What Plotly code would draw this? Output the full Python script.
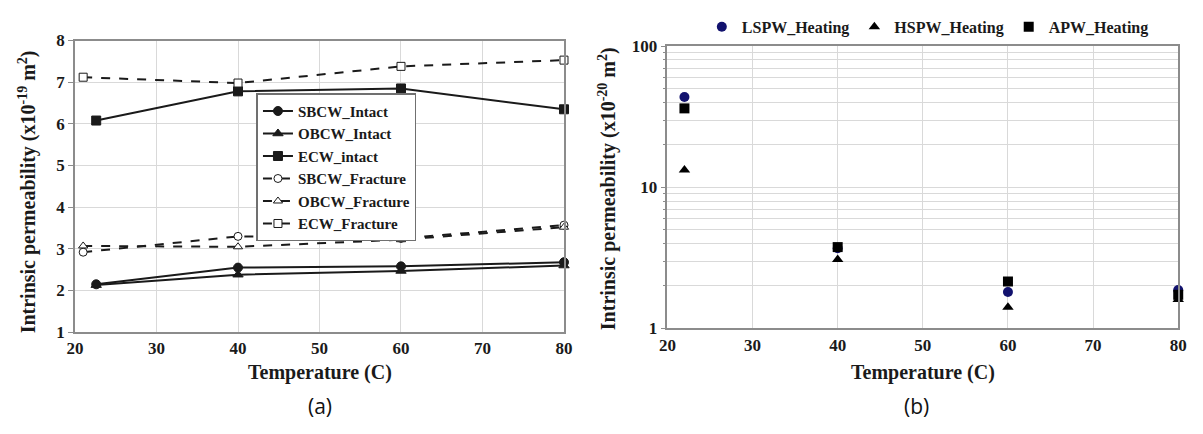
import plotly.graph_objects as go

# ---- Panel (a): permeability vs temperature, intact and fractured walls ----
temp_intact = [22.6, 40, 60, 80]
temp_fracture = [21, 40, 60, 80]

sbcw_intact = [2.15, 2.55, 2.58, 2.68]
obcw_intact = [2.13, 2.38, 2.47, 2.60]
ecw_intact = [6.08, 6.78, 6.85, 6.35]
sbcw_fracture = [2.92, 3.30, 3.25, 3.57]
obcw_fracture = [3.07, 3.05, 3.22, 3.52]
ecw_fracture = [7.12, 6.98, 7.38, 7.53]

# ---- Panel (b): permeability during heating (log scale) ----
temp_heating = [22, 40, 60, 80]
lspw_heating = [43.7, 3.7, 1.81, 1.87]
hspw_heating = [13.3, 3.08, 1.41, 1.60]
apw_heating = [36.3, 3.77, 2.15, 1.73]

SERIF = "Liberation Serif"
GRID = "#d9d9d9"
AXIS = "#8c8c8c"
INK = "#1a1a1a"

fig = go.Figure()

series_a = [
    ("SBCW_Intact", temp_intact, sbcw_intact, "circle", True),
    ("OBCW_Intact", temp_intact, obcw_intact, "triangle-up", True),
    ("ECW_intact", temp_intact, ecw_intact, "square", True),
    ("SBCW_Fracture", temp_fracture, sbcw_fracture, "circle", False),
    ("OBCW_Fracture", temp_fracture, obcw_fracture, "triangle-up", False),
    ("ECW_Fracture", temp_fracture, ecw_fracture, "square", False),
]
for name, xs, ys, sym, filled in series_a:
    fig.add_trace(go.Scatter(
        x=xs, y=ys, name=name, mode="lines+markers",
        line=dict(color=INK, width=2, dash="solid" if filled else "dash"),
        marker=dict(symbol=sym, size=9 if filled else 8,
                    color=INK if filled else "white",
                    line=dict(color=INK, width=1)),
        xaxis="x", yaxis="y", legend="legend", cliponaxis=False,
    ))

series_b = [
    ("LSPW_Heating", lspw_heating, "circle", "#12126e"),
    ("HSPW_Heating", hspw_heating, "triangle-up", "#000000"),
    ("APW_Heating", apw_heating, "square", "#000000"),
]
for name, ys, sym, col in series_b:
    fig.add_trace(go.Scatter(
        x=temp_heating, y=ys, name=name, mode="markers",
        marker=dict(symbol=sym, size=10, color=col, line=dict(width=0)),
        xaxis="x2", yaxis="y2", legend="legend2", cliponaxis=False,
    ))

tickfont = dict(family=SERIF, size=17, color=INK, weight="bold")
legfont = dict(family=SERIF, size=15, color=INK, weight="bold")
legfont2 = dict(family=SERIF, size=16, color=INK, weight="bold")

axis_common = dict(
    showline=True, linecolor=AXIS, linewidth=1.5, mirror=True,
    showgrid=True, gridcolor=GRID, gridwidth=1, zeroline=False,
    tickfont=tickfont,
)

fig.update_layout(
    width=1203, height=434,
    margin=dict(l=0, r=0, t=0, b=0),
    paper_bgcolor="white", plot_bgcolor="white",
    xaxis=dict(domain=[0.0565, 0.4688], anchor="y", range=[20, 80],
               tickmode="linear", tick0=20, dtick=10, ticks="",
               **axis_common),
    yaxis=dict(domain=[0.2212, 0.924], anchor="x", range=[1, 8],
               tickmode="linear", tick0=1, dtick=1, ticks="outside",
               ticklen=5, tickcolor=AXIS, **axis_common),
    xaxis2=dict(domain=[0.556, 0.9867], anchor="y2", range=[20, 80],
                tickmode="linear", tick0=20, dtick=10, ticks="",
                **axis_common),
    yaxis2=dict(domain=[0.2304, 0.9101], anchor="x2", type="log",
                range=[0, 2], dtick=1, ticks="outside", ticklen=5,
                tickcolor=AXIS,
                minor=dict(ticks="outside", ticklen=3, tickcolor=AXIS,
                           showgrid=True, gridcolor=GRID, gridwidth=1),
                **axis_common),
    legend=dict(x=0.2095, y=0.797, xanchor="left", yanchor="top",
                bgcolor="white", bordercolor="#707070", borderwidth=1.5,
                font=legfont, itemwidth=30, tracegroupgap=0,
                traceorder="normal"),
    legend2=dict(orientation="h", x=0.585, y=0.998, xanchor="left",
                 yanchor="top", bgcolor="rgba(0,0,0,0)", font=legfont2,
                 itemwidth=30),
    showlegend=True,
)

title_font = dict(family=SERIF, size=20, color=INK, weight="bold")
annotations = [
    dict(text="Temperature (C)", x=316, y=380),
    dict(text="Temperature (C)", x=928, y=380),
    dict(text="Intrinsic permeability (x10<sup>-19</sup> m<sup>2</sup>)",
         x=20, y=191, textangle=-90),
    dict(text="Intrinsic permeability (x10<sup>-20</sup> m<sup>2</sup>)",
         x=608, y=188, textangle=-90),
]
for a in annotations:
    fig.add_annotation(
        text=a["text"], x=a["x"] / 1203, y=1 - a["y"] / 434,
        xref="paper", yref="paper", xanchor="center", yanchor="middle",
        showarrow=False, font=title_font, textangle=a.get("textangle", 0),
    )
for lab, xp in [("(a)", 316), ("(b)", 922)]:
    fig.add_annotation(
        text=lab, x=xp / 1203, y=1 - 415 / 434, xref="paper", yref="paper",
        xanchor="center", yanchor="middle", showarrow=False,
        font=dict(family="Open Sans", size=21, color="#111111"),
    )

fig.write_html("out.html")
